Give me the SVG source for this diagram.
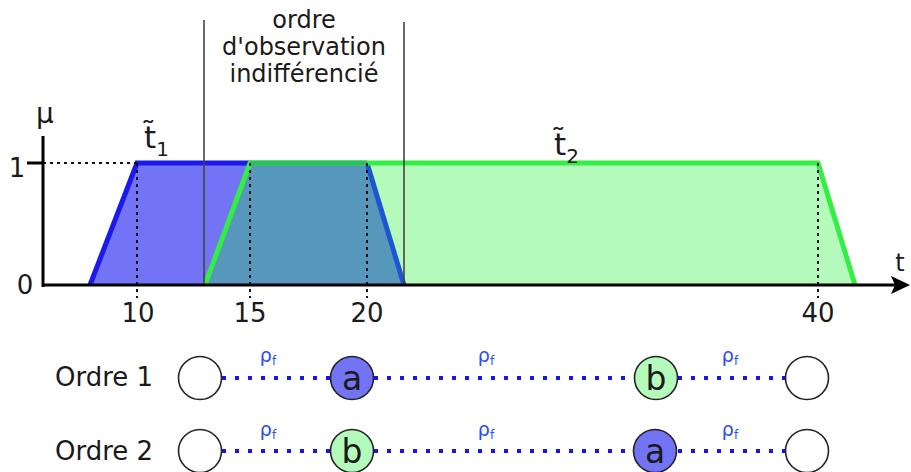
<svg xmlns="http://www.w3.org/2000/svg" width="911" height="472" viewBox="0 0 911 472">
<defs>
<style>
text{font-family:"DejaVu Sans","Liberation Sans",sans-serif;fill:#1a1a1a}
.lbl{font-size:24px;text-anchor:middle}
.tick{font-size:26px;text-anchor:middle}
.dot{stroke:#111;stroke-width:2;stroke-dasharray:3,4;fill:none}
.sep{stroke:#444;stroke-width:1.6}
.rho{font-size:19px;fill:#2c4cf0;text-anchor:middle}
.rho tspan{font-size:12px;fill:#2c4cf0}
.link{stroke:#1515ee;stroke-width:4;stroke-dasharray:4,9;fill:none}
.node{stroke:#222;stroke-width:1.6}
.nl{font-size:33px;text-anchor:middle}
.ord{font-size:26px}
</style>
</defs>
<g id="chart">
<polygon points="90,285 137,163 367,163 404,285" fill="#7373f5"/>
<polygon points="205,285 250,163 818,163 855,285" fill="#b4fbbb"/>
<polygon points="205,285 250,163 367,163 404,285" fill="#5797bb"/>
<polyline points="90,285 137,163 250,163" fill="none" stroke="#1a1aee" stroke-width="5"/>
<line x1="367" y1="163" x2="404" y2="285" stroke="#1e55d0" stroke-width="5"/>
<polyline points="205,285 250,163 818,163 855,285" fill="none" stroke="#33ee44" stroke-width="5"/>
<line x1="250" y1="163" x2="367" y2="163" stroke="#2bbf5f" stroke-width="5"/>
<line x1="43" y1="163" x2="137" y2="163" class="dot"/>
<line x1="137" y1="163" x2="137" y2="298" class="dot"/>
<line x1="250" y1="163" x2="250" y2="298" class="dot"/>
<line x1="367" y1="163" x2="367" y2="298" class="dot"/>
<line x1="818" y1="163" x2="818" y2="298" class="dot"/>
<line x1="204" y1="20" x2="204" y2="285" class="sep"/>
<line x1="404" y1="22" x2="404" y2="285" class="sep"/>
<line x1="43" y1="136" x2="43" y2="287" stroke="#000" stroke-width="3"/>
<line x1="27" y1="163" x2="43" y2="163" stroke="#000" stroke-width="3"/>
<line x1="43" y1="285" x2="896" y2="285" stroke="#000" stroke-width="3"/>
<polygon points="891,276 910,285 891,294 895,285" fill="#000"/>
<text x="45" y="123" font-size="28" text-anchor="middle">μ</text>
<text x="17" y="177" class="tick" font-size="28">1</text>
<text x="25" y="294" class="tick" font-size="28">0</text>
<text x="900" y="271" font-size="24" text-anchor="middle">t</text>
<text x="138" y="322" class="tick">10</text>
<text x="250" y="322" class="tick">15</text>
<text x="367" y="322" class="tick">20</text>
<text x="818" y="322" class="tick">40</text>
<text x="144" y="148" font-size="31">t̃<tspan font-size="20" dy="8">1</tspan></text>
<text x="554" y="155" font-size="31">t̃<tspan font-size="20" dy="8">2</tspan></text>
<text class="lbl"><tspan x="304" y="28">ordre</tspan><tspan x="304" y="55">d'observation</tspan><tspan x="304" y="82">indifférencié</tspan></text>
</g>
<g id="connectors">
<line x1="222" y1="378" x2="330" y2="378" class="link"/>
<line x1="374" y1="378" x2="634" y2="378" class="link"/>
<line x1="678" y1="378" x2="785" y2="378" class="link"/>
<line x1="222" y1="451" x2="330" y2="451" class="link"/>
<line x1="374" y1="451" x2="634" y2="451" class="link"/>
<line x1="678" y1="451" x2="785" y2="451" class="link"/>
<text x="268" y="362" class="rho">ρ<tspan dy="3">f</tspan></text>
<text x="486" y="362" class="rho">ρ<tspan dy="3">f</tspan></text>
<text x="730" y="362" class="rho">ρ<tspan dy="3">f</tspan></text>
<text x="268" y="436" class="rho">ρ<tspan dy="3">f</tspan></text>
<text x="486" y="436" class="rho">ρ<tspan dy="3">f</tspan></text>
<text x="730" y="436" class="rho">ρ<tspan dy="3">f</tspan></text>
</g>
<g id="row1">
<text x="55" y="386" class="ord">Ordre 1</text>
<g id="r1-start"><circle cx="200" cy="378" r="21.5" fill="#fff" class="node"/></g>
<g id="r1-a"><circle cx="352" cy="378" r="21.5" fill="#7373f5" class="node"/><text x="352" y="390" class="nl">a</text></g>
<g id="r1-b"><circle cx="656" cy="378" r="21.5" fill="#b4fbbb" class="node"/><text x="656" y="390" class="nl">b</text></g>
<g id="r1-end"><circle cx="807" cy="378" r="21.5" fill="#fff" class="node"/></g>
</g>
<g id="row2">
<text x="55" y="460" class="ord">Ordre 2</text>
<g id="r2-start"><circle cx="200" cy="451" r="21.5" fill="#fff" class="node"/></g>
<g id="r2-b"><circle cx="352" cy="451" r="21.5" fill="#b4fbbb" class="node"/><text x="352" y="463" class="nl">b</text></g>
<g id="r2-a"><circle cx="655" cy="451" r="21.5" fill="#7373f5" class="node"/><text x="655" y="463" class="nl">a</text></g>
<g id="r2-end"><circle cx="807" cy="451" r="21.5" fill="#fff" class="node"/></g>
</g>
</svg>
